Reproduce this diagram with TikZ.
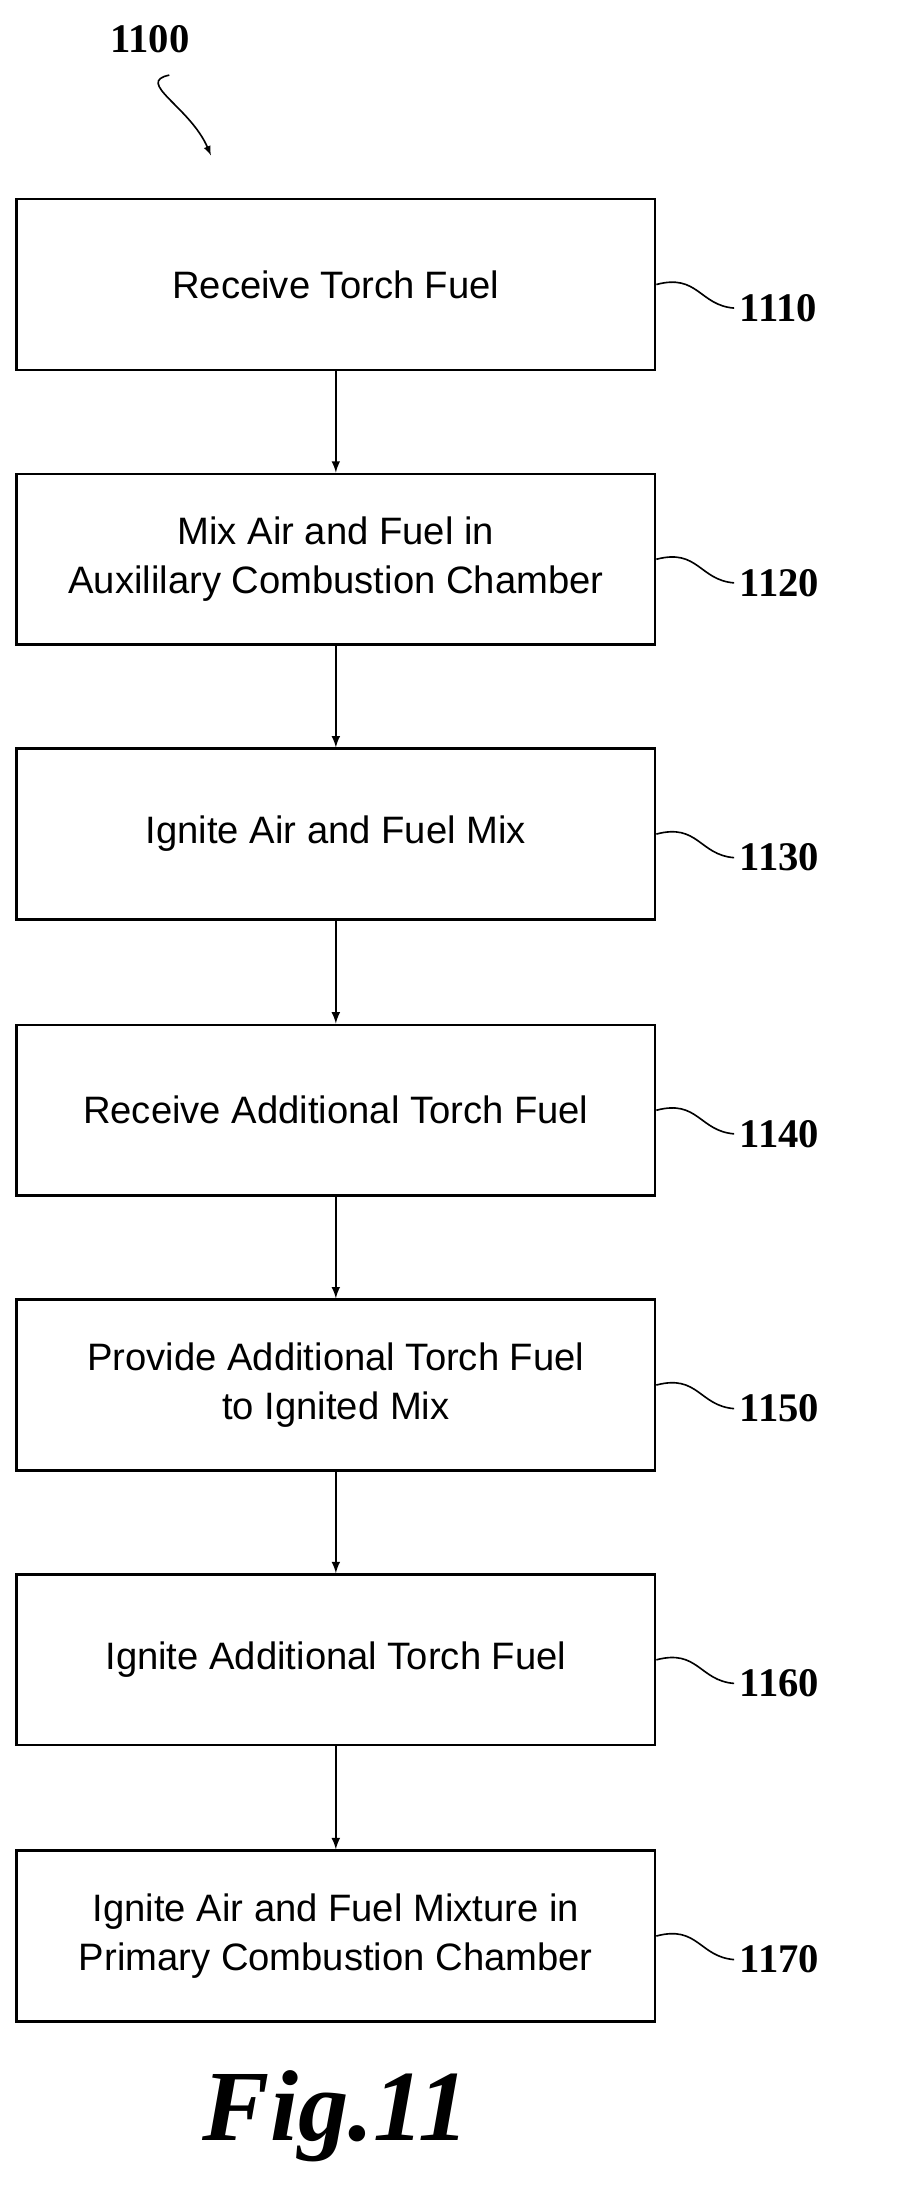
\documentclass[tikz,border=0pt]{standalone}
\usepackage{fontspec}
\setsansfont{Liberation Sans}
\newfontfamily\numfont{Liberation Serif}
\usetikzlibrary{arrows,positioning}

\begin{document}
\begin{tikzpicture}[x=0.03cm,y=-0.03cm,->,>=stealth',semithick]
  \tikzstyle{stepbox}=[draw,line width=1.6pt,minimum width=460*0.03cm,minimum height=123*0.03cm,
                       align=center,font=\sffamily\fontsize{23.5}{30}\selectfont]
  \tikzstyle{ref}=[font=\numfont\bfseries\fontsize{25}{28}\selectfont,anchor=west]
  \useasboundingbox (0,0) rectangle (655,1591);

  \node[stepbox] (S1) at (242,205)  {Receive Torch Fuel};
  \node[stepbox] (S2) at (242,403)  {Mix Air and Fuel in\\Auxililary Combustion Chamber};
  \node[stepbox] (S3) at (242,601)  {Ignite Air and Fuel Mix};
  \node[stepbox] (S4) at (242,800)  {Receive Additional Torch Fuel};
  \node[stepbox] (S5) at (242,998)  {Provide Additional Torch Fuel\\to Ignited Mix};
  \node[stepbox] (S6) at (242,1196) {Ignite Additional Torch Fuel};
  \node[stepbox] (S7) at (242,1395) {Ignite Air and Fuel Mixture in\\Primary Combustion Chamber};

  \foreach \a/\b in {S1/S2,S2/S3,S3/S4,S4/S5,S5/S6,S6/S7}
    \draw[line width=1.4pt,>=latex] (\a) -- (\b);

  % reference numerals
  \foreach \s/\n in {S1/1110,S2/1120,S3/1130,S4/1140,S5/1150,S6/1160,S7/1170} {
    \node[ref] (L\n) at ([xshift=56*0.03cm,yshift=-17*0.03cm]\s.east) {\n};
    \draw[-,line width=1pt] (\s.east) .. controls +(30,-8) and +(-25,-2) .. (L\n.west);
  }

  \node[font=\numfont\bfseries\fontsize{25}{28}\selectfont] (N) at (108,28) {1100};
  \coordinate (T) at (152,112);
  \draw[line width=1pt,>=latex] (N.south) ++(14,12) .. controls +(-25,5) and +(-15,-35) .. (T);

  \node[font=\numfont\bfseries\itshape\fontsize{62}{66}\selectfont] (F) at (242,1525) {Fig.11};
\end{tikzpicture}
\end{document}
